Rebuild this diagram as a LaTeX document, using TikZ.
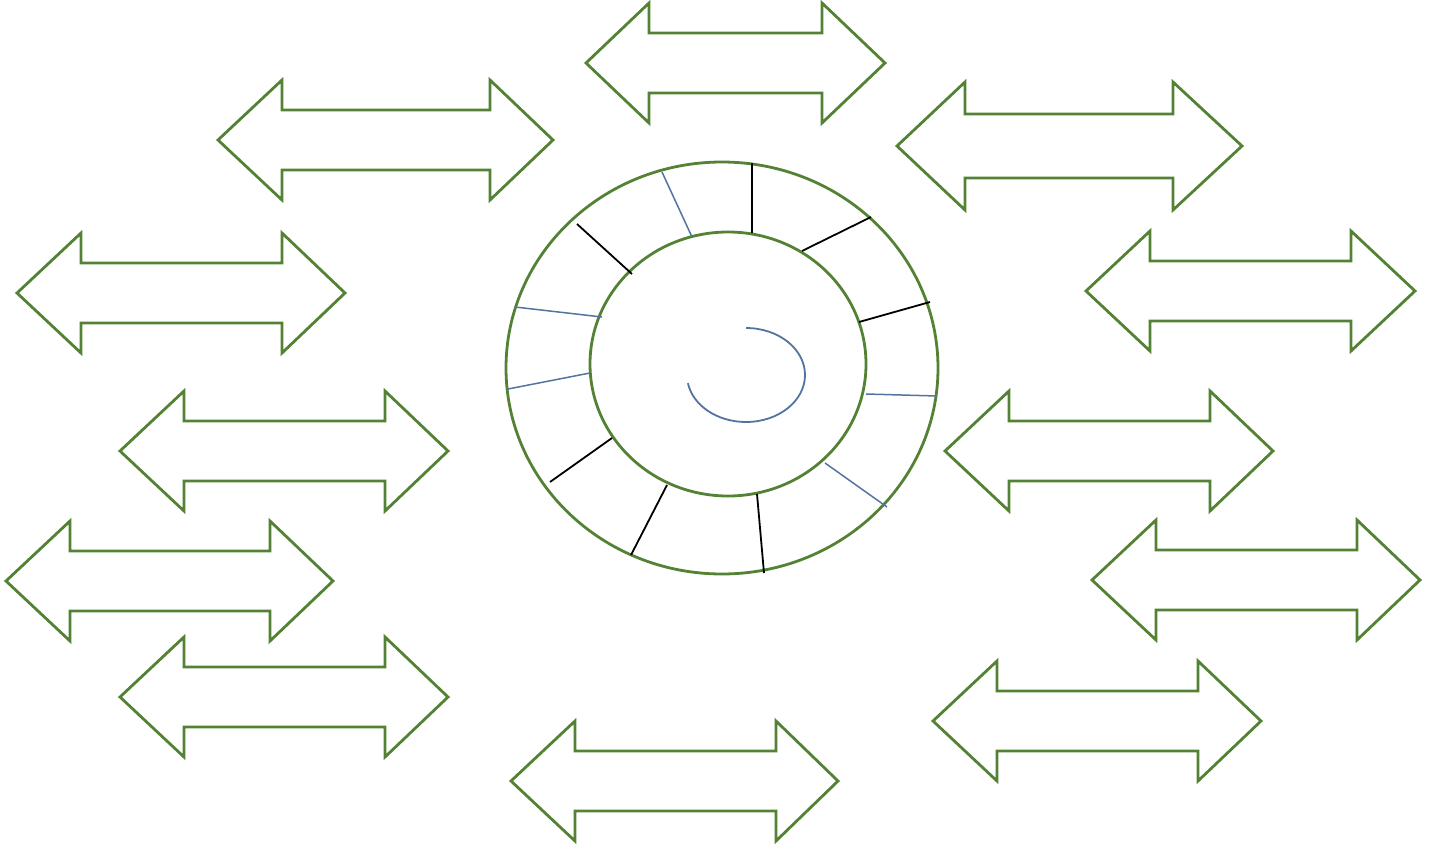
\documentclass[tikz,border=0pt]{standalone}
\definecolor{ringgreen}{HTML}{548235}
\definecolor{spokeblue}{HTML}{5373A0}
\tikzset{
  arrowshape/.style={draw=ringgreen, line width=2.8pt, line join=miter, fill=white},
  ringline/.style={draw=ringgreen, line width=2.8pt},
  bluespoke/.style={draw=spokeblue, line width=1.5pt},
  blackspoke/.style={draw=black, line width=1.8pt},
  spiralline/.style={draw=spokeblue, line width=1.8pt}
}
% #1 left tip x, #2 left head base x, #3 right head base x, #4 right tip x,
% #5 top y, #6 shaft top y, #7 shaft bottom y, #8 bottom y
\newcommand\dblarr[8]{%
  \draw[arrowshape] (#1,{(#5+#8)/2}) -- (#2,#5) -- (#2,#6) -- (#3,#6) -- (#3,#5)
    -- (#4,{(#5+#8)/2}) -- (#3,#8) -- (#3,#7) -- (#2,#7) -- (#2,#8) -- cycle;}
\begin{document}
\begin{tikzpicture}[x=1pt,y=-1pt]
\useasboundingbox (0,0) rectangle (1445,846);
% double arrows
\dblarr{586}{649}{822}{885}{3}{33}{93}{123}
\dblarr{218}{282}{490}{553}{80}{110}{170}{200}
\dblarr{897}{965}{1173}{1242}{82}{114}{178}{210}
\dblarr{17}{81}{282}{345}{233}{263}{323}{353}
\dblarr{1086}{1150}{1351}{1415}{231}{261}{321}{351}
\dblarr{120}{184}{385}{448}{391}{421}{481}{511}
\dblarr{945}{1009}{1210}{1273}{391}{421}{481}{511}
\dblarr{6}{70}{270}{333}{521}{551}{611}{641}
\dblarr{1092}{1156}{1357}{1420}{520}{550}{610}{640}
\dblarr{120}{184}{385}{448}{637}{667}{727}{757}
\dblarr{933}{997}{1198}{1261}{661}{691}{751}{781}
\dblarr{511}{575}{776}{838}{721}{751}{811}{841}
% rings
\draw[ringline] (722,368) ellipse [x radius=216, y radius=206];
\draw[ringline] (728,364) ellipse [x radius=138, y radius=132];
% spokes
\draw[bluespoke] (692,237) -- (662,172);
\draw[blackspoke] (752,233) -- (752,163);
\draw[blackspoke] (802,251) -- (871,217);
\draw[blackspoke] (859,322) -- (930,302);
\draw[bluespoke] (866,394) -- (937,396);
\draw[bluespoke] (825,463) -- (887,507);
\draw[blackspoke] (757,494) -- (764,573);
\draw[blackspoke] (667,485) -- (631,555);
\draw[blackspoke] (612,438) -- (550,482);
\draw[bluespoke] (590,373) -- (508,389);
\draw[bluespoke] (602,317) -- (515,307);
\draw[blackspoke] (632,274) -- (577,224);
% spiral
\draw[spiralline] (746,328) arc [start angle=-90, end angle=170, x radius=59, y radius=47];
\end{tikzpicture}
\end{document}
